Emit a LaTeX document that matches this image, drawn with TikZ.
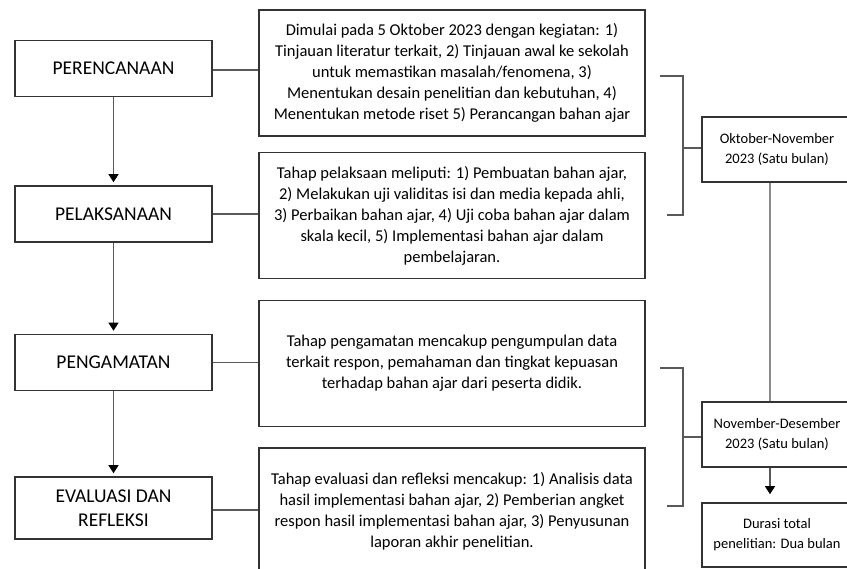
\documentclass[tikz,border=0pt]{standalone}
\usepackage{fontspec}
\setmainfont{Carlito}
\usetikzlibrary{arrows.meta}

\begin{document}
\begin{tikzpicture}[x=1pt,y=-1pt,
    phase/.style={draw=black!80, line width=1.6pt, minimum width=197pt, minimum height=56pt,
      inner sep=0pt, align=center, font=\fontsize{19.5}{24}\selectfont},
    desc/.style={draw=black!80, line width=1.6pt, minimum width=386pt, minimum height=126pt,
      inner sep=0pt, align=center, font=\fontsize{16.5}{21}\selectfont},
    period/.style={draw=black!80, line width=1.6pt, minimum width=150pt, minimum height=65pt,
      inner sep=0pt, align=center, font=\fontsize{14.5}{20}\selectfont},
    link/.style={draw=black!65, line width=1.1pt},
    flow/.style={link, -{Triangle[width=10pt,length=8pt,color=black]}, shorten >=3pt}]
        \useasboundingbox (0,0) rectangle (847,569);

        % stages
        \node[phase] (per) at (113.5,68.5) {PERENCANAAN};
        \node[phase] (pel) at (113.5,214) {PELAKSANAAN};
        \node[phase] (pen) at (113.5,362.5) {PENGAMATAN};
        \node[phase, minimum height=62pt] (eva) at (113.5,508) {EVALUASI DAN\\REFLEKSI};

        \foreach \a/\b in {per/pel, pel/pen, pen/eva} {
          \draw[flow] (\a.south) -- (\b.north);
        }

        % descriptions
        \node[desc] (d1) at (452,73) {Dimulai pada 5 Oktober 2023 dengan kegiatan: 1)\\
          Tinjauan literatur terkait, 2) Tinjauan awal ke sekolah\\
          untuk memastikan masalah/fenomena, 3)\\
          Menentukan desain penelitian dan kebutuhan, 4)\\
          Menentukan metode riset 5) Perancangan bahan ajar};
        \node[desc] (d2) at (452,215.5) {Tahap pelaksaan meliputi: 1) Pembuatan bahan ajar,\\
          2) Melakukan uji validitas isi dan media kepada ahli,\\
          3) Perbaikan bahan ajar, 4) Uji coba bahan ajar dalam\\
          skala kecil, 5) Implementasi bahan ajar dalam\\
          pembelajaran.};
        \node[desc] (d3) at (452,363.5) {Tahap pengamatan mencakup pengumpulan data\\
          terkait respon, pemahaman dan tingkat kepuasan\\
          terhadap bahan ajar dari peserta didik.};
        \node[desc] (d4) at (452,511) {Tahap evaluasi dan refleksi mencakup: 1) Analisis data\\
          hasil implementasi bahan ajar, 2) Pemberian angket\\
          respon hasil implementasi bahan ajar, 3) Penyusunan\\
          laporan akhir penelitian.};

        \draw[link] ([yshift=-1.5]per.east) -- ([yshift=-1.5]per.east -| d1.west);
        \draw[link] (pel.east) -- (pel.east -| d2.west);
        \draw[link] (pen.east) -- (pen.east -| d3.west);
        \draw[link] ([yshift=-2]eva.east) -- ([yshift=-2]eva.east -| d4.west);

        % time frame
        \node[period] (okt) at (777,149.5) {Oktober-November\\2023 (Satu bulan)};
        \node[period] (nov) at (777,434.5) {November-Desember\\2023 (Satu bulan)};
        \node[period, minimum height=64pt] (dur) at (777,535) {Durasi total\\penelitian: Dua bulan};

        \coordinate (b1a) at (660,76);
        \coordinate (b1m) at (683,148);
        \coordinate (b1b) at (667,215);
        \coordinate (b2a) at (660,368);
        \coordinate (b2m) at (683,437);
        \coordinate (b2b) at (667,506);

        \draw[link] (b1a) -| (b1m) |- (b1b);
        \draw[link] (b1m) -- (b1m -| okt.west);
        \draw[link] (b2a) -| (b2m) |- (b2b);
        \draw[link] (b2m) -- (b2m -| nov.west);

        \draw[link, draw=black!45] ([xshift=-7]okt.south) -- ([xshift=-7]nov.north);
        \draw[flow, shorten >=8pt] ([xshift=-7]nov.south) -- ([xshift=-7]dur.north);
      \end{tikzpicture}
\end{document}
